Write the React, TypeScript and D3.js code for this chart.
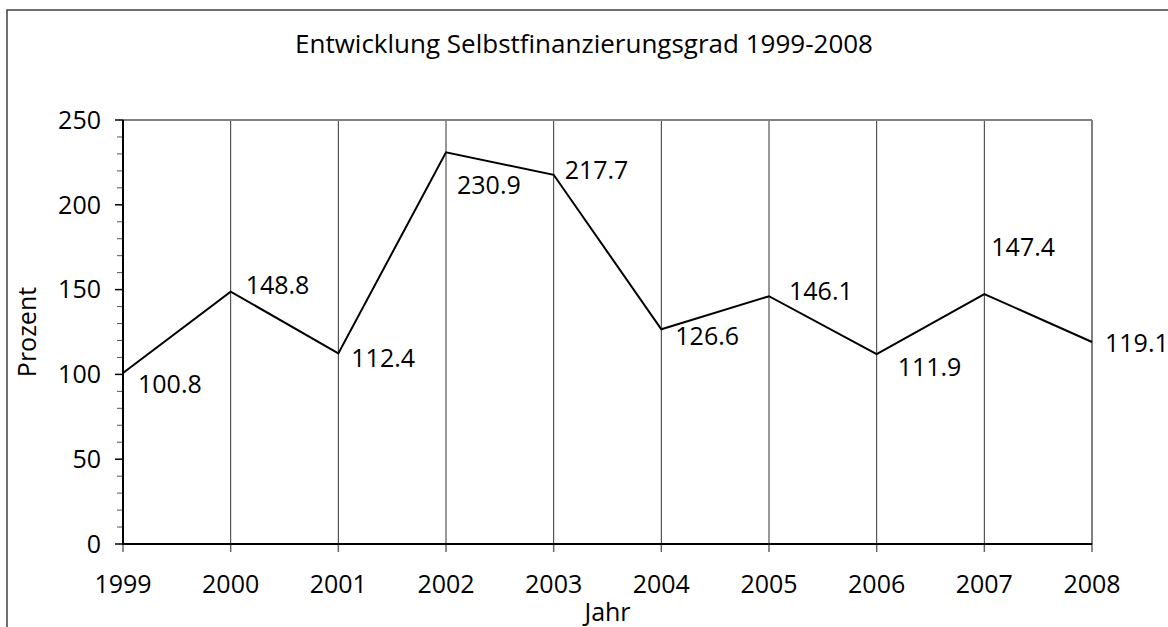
import React from "react";
import * as d3 from "d3";

const years = [1999, 2000, 2001, 2002, 2003, 2004, 2005, 2006, 2007, 2008];
const values = [100.8, 148.8, 112.4, 230.9, 217.7, 126.6, 146.1, 111.9, 147.4, 119.1];
const yTicks = [0, 50, 100, 150, 200, 250];
// label offsets relative to the point (dx, baseline dy)
const labelDx = [15, 15, 13, 11, 11, 14, 20, 21, 7, 13];
const labelDy = [20, 2, 14, 42, 4, 16, 4, 22, -38, 10];

const W = 1168;
const H = 627;
const L = 123, R = 1092, T = 120, B = 544;
const FONT = "'Open Sans', sans-serif";
const FS = 25;

export default function App() {
  const x = d3.scaleLinear().domain([years[0], years[years.length - 1]]).range([L, R]);
  const y = d3.scaleLinear().domain([0, 250]).range([B, T]);
  const minor = d3.range(0, 251, 10).filter((v) => v % 50 !== 0);
  const line = d3
    .line<number>()
    .x((_, i) => x(years[i]))
    .y((d) => y(d));

  return (
    <svg
      width={W}
      height={H}
      style={{ position: "absolute", left: 0, top: 0, background: "#fff" }}
      fontFamily={FONT}
    >
      <rect x={0} y={0} width={W} height={H} fill="#fff" />
      {/* outer frame */}
      <rect x={7} y={10} width={W + 20} height={H + 20} fill="none" stroke="#404040" strokeWidth={1.5} />
      <text x={584} y={53} textAnchor="middle" fontSize={26} fill="#000">
        Entwicklung Selbstfinanzierungsgrad 1999-2008
      </text>
      {/* vertical gridlines */}
      {years.slice(1, -1).map((yr) => (
        <line key={yr} x1={x(yr)} x2={x(yr)} y1={T} y2={B} stroke="#333" strokeWidth={1} />
      ))}
      {/* plot border top/right */}
      <line x1={L} x2={R} y1={T} y2={T} stroke="#808080" strokeWidth={2} />
      <line x1={R} x2={R} y1={T} y2={B} stroke="#808080" strokeWidth={2} />
      {/* minor y ticks */}
      {minor.map((v) => (
        <line key={v} x1={L - 6} x2={L} y1={y(v)} y2={y(v)} stroke="#555" strokeWidth={1} />
      ))}
      {/* major y ticks and labels */}
      {yTicks.map((v) => (
        <g key={v}>
          <line x1={L - 8} x2={L} y1={y(v)} y2={y(v)} stroke="#000" strokeWidth={1.5} />
          <text x={101} y={y(v)} dy="0.35em" textAnchor="end" fontSize={FS} fill="#000">
            {v}
          </text>
        </g>
      ))}
      {/* x ticks and labels */}
      {years.map((yr) => (
        <g key={yr}>
          <line x1={x(yr)} x2={x(yr)} y1={B} y2={B + 8} stroke="#666" strokeWidth={1.5} />
          <text x={x(yr)} y={593} textAnchor="middle" fontSize={FS} fill="#000">
            {yr}
          </text>
        </g>
      ))}
      {/* axes */}
      <line x1={L} x2={L} y1={T} y2={B + 1} stroke="#000" strokeWidth={2} />
      <line x1={L - 1} x2={R} y1={B} y2={B} stroke="#000" strokeWidth={2} />
      {/* data line */}
      <path d={line(values) || ""} fill="none" stroke="#000" strokeWidth={2} strokeLinejoin="miter" />
      {values.map((v, i) => (
        <text key={i} x={x(years[i]) + labelDx[i]} y={y(v) + labelDy[i]} fontSize={FS} fill="#000">
          {v.toFixed(1)}
        </text>
      ))}
      <text x={(L + R) / 2} y={621} textAnchor="middle" fontSize={FS} fill="#000">
        Jahr
      </text>
      <text
        transform={`translate(36, ${(T + B) / 2}) rotate(-90)`}
        textAnchor="middle"
        fontSize={FS}
        fill="#000"
      >
        Prozent
      </text>
    </svg>
  );
}
